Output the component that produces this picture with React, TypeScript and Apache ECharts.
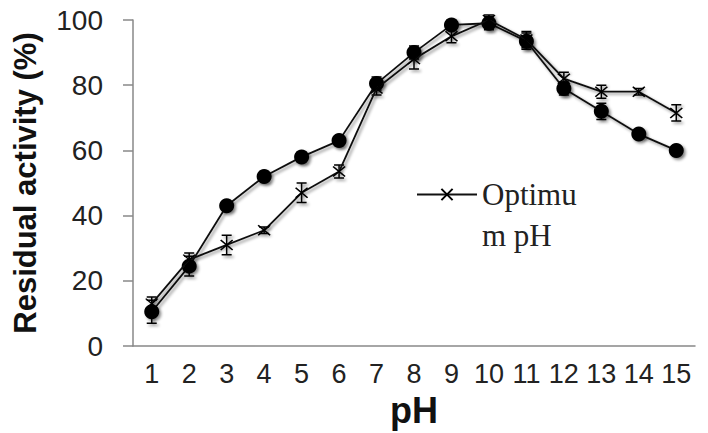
import React, { useEffect, useRef } from "react";
import * as echarts from "echarts";

const phLabels = ["1", "2", "3", "4", "5", "6", "7", "8", "9", "10", "11", "12", "13", "14", "15"];
const residualActivity = [10.5, 24.5, 43, 52, 58, 63, 80.5, 90, 98.5, 99, 93.5, 79, 72, 65, 60];
const residualError = [3.5, 3, 1, 1.5, 1.5, 1.5, 2, 2, 1.5, 2, 2.5, 2, 2.5, 1, 1];
const optimumActivity = [13, 26.5, 31, 35.5, 47, 53.5, 79, 88, 95, 100, 94, 82, 78, 78, 71.5];
const optimumError = [2, 2, 3, 1, 3, 2, 2, 3, 2, 1.5, 2.5, 2, 2, 1, 2.5];
const yTicks = [0, 20, 40, 60, 80, 100];

const shadow = {
  shadowColor: "rgba(0,0,0,0.45)",
  shadowBlur: 3,
  shadowOffsetX: 2,
  shadowOffsetY: 2,
};

function errorSeries(values: number[], errs: number[]) {
  return {
    type: "custom",
    silent: true,
    z: 3,
    data: values.map((v, i) => [i, v - errs[i], v + errs[i]]),
    renderItem: (params: any, api: any) => {
      const lo = api.coord([api.value(0), api.value(1)]);
      const hi = api.coord([api.value(0), api.value(2)]);
      const cap = 5;
      const x = lo[0];
      return {
        type: "polyline",
        shape: {
          points: [
            [x - cap, hi[1]],
            [x + cap, hi[1]],
            [x, hi[1]],
            [x, lo[1]],
            [x - cap, lo[1]],
            [x + cap, lo[1]],
          ],
        },
        style: { stroke: "#000", fill: "none", lineWidth: 1.5, ...shadow },
      };
    },
  };
}

export default function App() {
  const ref = useRef<HTMLDivElement>(null);
  useEffect(() => {
    if (!ref.current) return;
    const chart = echarts.init(ref.current, null, { renderer: "svg" });
    chart.setOption({
      animation: false,
      backgroundColor: "#fff",
      grid: { left: 133, right: 13, top: 20, bottom: 81 },
      legend: {
        data: ["Optimum pH"],
        left: 416,
        top: 138,
        padding: 0,
        itemWidth: 60,
        itemHeight: 14,
        itemGap: 4,
        formatter: () => "{a| }\n{a|Optimu}\n{a|m pH}",
        textStyle: {
          rich: {
            a: {
              fontFamily: "Liberation Serif",
              fontSize: 31,
              lineHeight: 41,
              color: "#222",
            },
          },
        },
      },
      xAxis: {
        type: "category",
        data: phLabels,
        boundaryGap: true,
        axisLine: { show: true, lineStyle: { color: "#888", width: 1.5 } },
        axisTick: { show: false },
        axisLabel: {
          interval: 0,
          margin: 14,
          fontFamily: "Liberation Sans",
          fontSize: 27,
          color: "#222",
        },
        name: "pH",
        nameLocation: "middle",
        nameGap: 46,
        nameTextStyle: {
          fontFamily: "Liberation Sans",
          fontWeight: "bold",
          fontSize: 36,
          color: "#111",
        },
      },
      yAxis: {
        type: "value",
        min: yTicks[0],
        max: yTicks[yTicks.length - 1],
        interval: 20,
        splitLine: { show: false },
        axisLine: { show: true, lineStyle: { color: "#888", width: 1.5 } },
        axisTick: { show: true, length: 10, lineStyle: { color: "#888", width: 1.5 } },
        axisLabel: {
          margin: 30,
          fontFamily: "Liberation Sans",
          fontSize: 28,
          color: "#222",
        },
        name: "Residual activity (%)",
        nameLocation: "middle",
        nameGap: 92,
        nameTextStyle: {
          fontFamily: "Liberation Sans",
          fontWeight: "bold",
          fontSize: 31,
          color: "#111",
        },
      },
      series: [
        {
          name: "Residual activity",
          type: "line",
          data: residualActivity,
          symbol: "circle",
          symbolSize: 15,
          z: 4,
          itemStyle: { color: "#000", ...shadow },
          lineStyle: { color: "#111", width: 1.8, ...shadow },
        },
        errorSeries(residualActivity, residualError),
        {
          name: "Optimum pH",
          type: "line",
          data: optimumActivity,
          symbol: "path://M0,0L10,10M10,0L0,10",
          symbolSize: [12, 10],
          z: 5,
          itemStyle: { color: "none", borderColor: "#000", borderWidth: 1.5 },
          lineStyle: { color: "#111", width: 1.8, ...shadow },
        },
        errorSeries(optimumActivity, optimumError),
      ],
    });
    return () => chart.dispose();
  }, []);
  return (
    <div
      ref={ref}
      style={{ position: "absolute", left: 0, top: 0, width: 708, height: 433 }}
    />
  );
}
